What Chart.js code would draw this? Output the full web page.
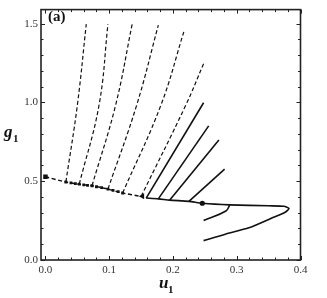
<!DOCTYPE html>
<html><head><meta charset="utf-8">
<script src="https://cdn.jsdelivr.net/npm/chart.js@4/dist/chart.umd.min.js"></script>
<style>html,body{margin:0;padding:0;background:#fff}canvas{display:block}</style>
</head><body><canvas id="c" width="327" height="298"></canvas>
<script>
// ---- data ----
const xTicks = [0, 0.1, 0.2, 0.3, 0.4];
const yTicks = [0, 0.5, 1.0, 1.5];
const dashedMain = [[0,0.528],[0.032,0.495],[0.053,0.481],[0.073,0.471],[0.098,0.450],[0.121,0.425],[0.150,0.403]];
const dashedBranch1 = [[0.032,0.495],[0.050,0.982],[0.064,1.497]];
const dashedBranch2 = [[0.053,0.481],[0.084,0.982],[0.098,1.497]];
const dashedBranch3 = [[0.073,0.471],[0.110,0.982],[0.136,1.497]];
const dashedBranch4 = [[0.098,0.450],[0.143,0.982],[0.177,1.490]];
const dashedBranch5 = [[0.121,0.425],[0.181,0.982],[0.217,1.448]];
const dashedBranch6 = [[0.150,0.403],[0.220,0.982],[0.248,1.245]];
const solidMain = [[0.158,0.393],[0.177,0.388],[0.195,0.380],[0.225,0.372],[0.246,0.360],[0.289,0.350],[0.350,0.344],[0.374,0.341],[0.382,0.327],[0.376,0.303],[0.355,0.266],[0.319,0.204],[0.282,0.164],[0.248,0.123]];
const solidSmall = [[0.289,0.348],[0.283,0.311],[0.248,0.250]];
const solidBranch1 = [[0.158,0.393],[0.248,0.998]];
const solidBranch2 = [[0.177,0.388],[0.256,0.851]];
const solidBranch3 = [[0.195,0.380],[0.272,0.761]];
const solidBranch4 = [[0.225,0.372],[0.281,0.577]];
const startSquare = [[0,0.528]];
const squareMarks = [[0.032,0.495],[0.040,0.489],[0.047,0.485],[0.053,0.481],[0.060,0.477],[0.066,0.474],[0.073,0.471],[0.080,0.465],[0.088,0.459],[0.098,0.450],[0.106,0.442],[0.114,0.434],[0.121,0.425]];
const triangleMark = [[0.152,0.404]];
const circleMark = [[0.246,0.360]];

const P = a => a.map(([x,y]) => ({x, y}));
const INK = '#111';
const dashed = (d) => ({data:P(d), showLine:true, borderColor:INK, borderWidth:1.2, borderDash:[4,2.5], pointRadius:0, tension:0.4, fill:false});
const solid = (d, t) => ({data:P(d), showLine:true, borderColor:INK, borderWidth:1.6, pointRadius:0, tension:t, fill:false});

const frameTicks = {
  id:'frameTicks',
  afterDatasetsDraw(chart){
    const {ctx, chartArea:a, scales:{x, y}} = chart;
    ctx.save();
    ctx.strokeStyle = '#222';
    ctx.lineWidth = 1;
    ctx.beginPath();
    for (let i = 0; i <= 20; i++) {
      const v = i*0.02, px = Math.round(x.getPixelForValue(v)) + 0.5;
      const L = (i % 5 === 0) ? 4 : 2.5;
      ctx.moveTo(px, a.bottom); ctx.lineTo(px, a.bottom - L);
      ctx.moveTo(px, a.top); ctx.lineTo(px, a.top + L);
    }
    for (let i = 0; i <= 15; i++) {
      const v = i*0.1, py = Math.round(y.getPixelForValue(v)) + 0.5;
      const L = (i % 5 === 0) ? 4 : 2.5;
      ctx.moveTo(a.left, py); ctx.lineTo(a.left + L, py);
      ctx.moveTo(a.right, py); ctx.lineTo(a.right - L, py);
    }
    ctx.stroke();
    ctx.lineWidth = 1.6;
    ctx.strokeStyle = '#222';
    ctx.strokeRect(a.left, a.top, a.right - a.left, a.bottom - a.top);
    ctx.restore();
  },
  afterDraw(chart){
    const {ctx, chartArea:a} = chart;
    ctx.save();
    ctx.fillStyle = '#111';
    ctx.textBaseline = 'alphabetic';
    ctx.textAlign = 'left';
    ctx.font = 'bold 15px "Liberation Serif"';
    ctx.fillText('(a)', a.left + 7, 21);
    ctx.font = 'bold italic 17px "Liberation Serif"';
    ctx.fillText('g', 4, 136.5);
    ctx.font = 'bold 11px "Liberation Serif"';
    ctx.fillText('1', 13, 142);
    ctx.font = 'bold italic 17px "Liberation Serif"';
    ctx.fillText('u', 159, 288);
    ctx.font = 'bold 11px "Liberation Serif"';
    ctx.fillText('1', 168, 293);
    ctx.restore();
  }
};

new Chart(document.getElementById('c'), {
  type:'scatter',
  data:{datasets:[
    dashed(dashedBranch1), dashed(dashedBranch2), dashed(dashedBranch3),
    dashed(dashedBranch4), dashed(dashedBranch5), dashed(dashedBranch6),
    {data:P(dashedMain), showLine:true, borderColor:INK, borderWidth:1.5, borderDash:[4,2.5], pointRadius:0, tension:0.3},
    solid(solidMain, 0.22), solid(solidSmall, 0.4),
    solid(solidBranch1, 0), solid(solidBranch2, 0), solid(solidBranch3, 0), solid(solidBranch4, 0),
    {data:P(squareMarks), showLine:false, pointStyle:'rect', pointRadius:2, backgroundColor:INK, borderColor:INK, borderWidth:0},
    {data:P(startSquare), showLine:false, pointStyle:'rect', pointRadius:3.2, backgroundColor:INK, borderColor:INK, borderWidth:0},
    {data:P(triangleMark), showLine:false, pointStyle:'triangle', rotation:-90, pointRadius:3.5, backgroundColor:INK, borderColor:INK, borderWidth:0},
    {data:P(circleMark), showLine:false, pointStyle:'circle', pointRadius:2.6, backgroundColor:INK, borderColor:INK, borderWidth:0}
  ]},
  options:{
    responsive:false, animation:false, devicePixelRatio:1,
    layout:{padding:{top:1, right:26.5, left:0, bottom:0}},
    plugins:{legend:{display:false}, tooltip:{enabled:false}},
    scales:{
      x:{type:'linear', min:-0.007, max:0.4,
        afterBuildTicks:s => { s.ticks = xTicks.map(v => ({value:v})); },
        afterFit:s => { s.height = 38; },
        grid:{display:false, drawTicks:false}, border:{display:false},
        ticks:{padding:4, color:'#333', font:{family:'"Liberation Serif"', size:11}, callback:v => v.toFixed(1), maxRotation:0}},
      y:{type:'linear', min:0, max:1.589,
        afterBuildTicks:s => { s.ticks = yTicks.map(v => ({value:v})); },
        afterFit:s => { s.width = 41; },
        grid:{display:false, drawTicks:false}, border:{display:false},
        ticks:{padding:3, color:'#333', font:{family:'"Liberation Serif"', size:11}, callback:v => v.toFixed(1)}}
    }
  },
  plugins:[frameTicks]
});
</script></body></html>
